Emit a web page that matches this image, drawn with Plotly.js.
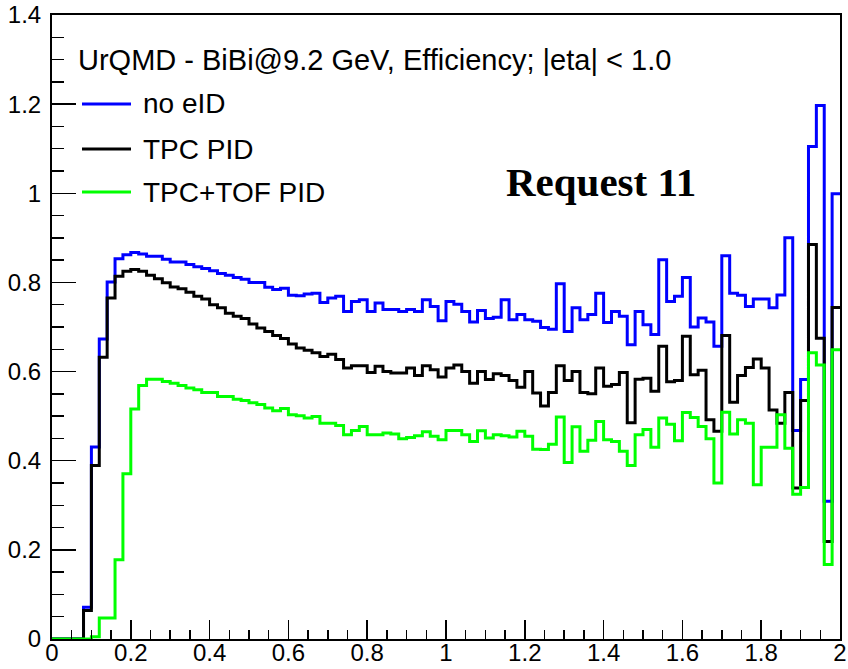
<!DOCTYPE html>
<html>
<head>
<meta charset="utf-8">
<script src="https://cdn.plot.ly/plotly-3.0.1.min.js"></script>
<style>
  html, body { margin: 0; padding: 0; background: #ffffff; }
  #chart { width: 848px; height: 669px; }
</style>
</head>
<body>
<div id="chart"></div>
<script>
// Histogram binning: 100 bins of width 0.02 on [0, 2]
const binLow = 0;
const binWidth = 0.02;

// Efficiency per bin
const noEID = [
  0, 0, 0, 0, 0.071, 0.431, 0.673, 0.801, 0.853, 0.862,
  0.867, 0.864, 0.859, 0.859, 0.852, 0.846, 0.846, 0.840, 0.835, 0.831,
  0.826, 0.820, 0.816, 0.811, 0.807, 0.800, 0.800, 0.789, 0.784, 0.787,
  0.771, 0.770, 0.774, 0.776, 0.755, 0.765, 0.769, 0.735, 0.757, 0.761,
  0.735, 0.754, 0.739, 0.739, 0.735, 0.739, 0.735, 0.761, 0.746, 0.714,
  0.757, 0.751, 0.735, 0.711, 0.737, 0.719, 0.722, 0.761, 0.716, 0.728,
  0.716, 0.713, 0.699, 0.695, 0.797, 0.690, 0.743, 0.716, 0.728, 0.776,
  0.710, 0.735, 0.724, 0.660, 0.735, 0.705, 0.683, 0.851, 0.757, 0.769,
  0.811, 0.700, 0.720, 0.711, 0.657, 0.860, 0.776, 0.771, 0.746, 0.763,
  0.763, 0.743, 0.772, 0.900, 0.468, 0.582, 1.105, 1.197, 0.309, 0.999
];
const tpcPID = [
  0, 0, 0, 0, 0.064, 0.389, 0.632, 0.765, 0.814, 0.825,
  0.829, 0.825, 0.816, 0.808, 0.799, 0.790, 0.786, 0.778, 0.769, 0.763,
  0.750, 0.743, 0.731, 0.724, 0.719, 0.707, 0.698, 0.690, 0.681, 0.674,
  0.662, 0.653, 0.648, 0.642, 0.634, 0.639, 0.627, 0.608, 0.613, 0.613,
  0.598, 0.612, 0.600, 0.597, 0.597, 0.608, 0.591, 0.613, 0.604, 0.588,
  0.608, 0.615, 0.600, 0.574, 0.600, 0.582, 0.595, 0.591, 0.580, 0.565,
  0.600, 0.552, 0.523, 0.553, 0.613, 0.580, 0.600, 0.553, 0.550, 0.608,
  0.567, 0.571, 0.598, 0.485, 0.583, 0.585, 0.556, 0.657, 0.577, 0.580,
  0.679, 0.593, 0.603, 0.492, 0.466, 0.681, 0.531, 0.591, 0.609, 0.628,
  0.608, 0.514, 0.484, 0.553, 0.339, 0.535, 0.885, 0.675, 0.219, 0.744
];
const tpcTofPID = [
  0, 0, 0, 0, 0, 0.005, 0.047, 0.047, 0.178, 0.371,
  0.516, 0.569, 0.583, 0.583, 0.578, 0.574, 0.569, 0.563, 0.559, 0.553,
  0.553, 0.544, 0.544, 0.538, 0.535, 0.530, 0.526, 0.518, 0.512, 0.517,
  0.503, 0.501, 0.496, 0.499, 0.484, 0.484, 0.479, 0.458, 0.468, 0.477,
  0.458, 0.458, 0.462, 0.460, 0.449, 0.452, 0.456, 0.465, 0.455, 0.447,
  0.468, 0.468, 0.458, 0.443, 0.467, 0.451, 0.458, 0.456, 0.453, 0.466,
  0.455, 0.426, 0.425, 0.437, 0.498, 0.396, 0.476, 0.421, 0.446, 0.488,
  0.447, 0.443, 0.421, 0.389, 0.458, 0.470, 0.430, 0.496, 0.482, 0.445,
  0.508, 0.497, 0.477, 0.449, 0.350, 0.509, 0.460, 0.492, 0.484, 0.346,
  0.430, 0.430, 0.503, 0.428, 0.325, 0.340, 0.642, 0.615, 0.167, 0.649
];

const seriesNames = ["no eID", "TPC PID", "TPC+TOF PID"];
const seriesColors = ["#0000ff", "#000000", "#00ff00"];
const headerText = "UrQMD - BiBi@9.2 GeV, Efficiency; |eta| < 1.0";
const stampText = "Request 11";

const xTickVals = [0, 0.2, 0.4, 0.6, 0.8, 1, 1.2, 1.4, 1.6, 1.8, 2];
const xTickText = ["0", "0.2", "0.4", "0.6", "0.8", "1", "1.2", "1.4", "1.6", "1.8", "2"];
const yTickVals = [0, 0.2, 0.4, 0.6, 0.8, 1, 1.2, 1.4];
const yTickText = ["0", "0.2", "0.4", "0.6", "0.8", "1", "1.2", "1.4"];

// Build step outlines (left edges + final right edge)
function stepTrace(values, name, color) {
  const xs = [];
  const ys = [];
  for (let i = 0; i < values.length; i++) {
    xs.push(+(binLow + i * binWidth).toFixed(4));
    ys.push(values[i]);
  }
  xs.push(+(binLow + values.length * binWidth).toFixed(4));
  ys.push(values[values.length - 1]);
  return {
    type: "scatter",
    mode: "lines",
    x: xs,
    y: ys,
    name: name,
    line: { shape: "hv", color: color, width: 3 },
    showlegend: false,
    hoverinfo: "x+y+name"
  };
}

const allSeries = [noEID, tpcPID, tpcTofPID];
const traces = allSeries.map((v, i) => stepTrace(v, seriesNames[i], seriesColors[i]));

// Plot-area geometry (px) used to place the in-frame legend
const plotL = 52, plotR = 840, plotT = 15, plotB = 639;
const pw = plotR - plotL, ph = plotB - plotT;
const px = (p) => (p - plotL) / pw;
const py = (p) => 1 - (p - plotT) / ph;

const legendRowsY = [104, 149, 192];
const shapes = [];
const annotations = [];

annotations.push({
  xref: "paper", yref: "paper",
  x: px(76), y: py(60),
  xanchor: "left", yanchor: "middle",
  text: headerText, showarrow: false,
  font: { family: "Liberation Sans, Arial, sans-serif", size: 29, color: "#000000" }
});

seriesNames.forEach((n, i) => {
  shapes.push({
    type: "line", xref: "paper", yref: "paper",
    x0: px(82), x1: px(131), y0: py(legendRowsY[i]), y1: py(legendRowsY[i]),
    line: { color: seriesColors[i], width: 3 }
  });
  annotations.push({
    xref: "paper", yref: "paper",
    x: px(141), y: py(legendRowsY[i]),
    xanchor: "left", yanchor: "middle",
    text: n, showarrow: false,
    font: { family: "Liberation Sans, Arial, sans-serif", size: 28, color: "#000000" }
  });
});

annotations.push({
  xref: "paper", yref: "paper",
  x: px(601), y: py(182),
  xanchor: "center", yanchor: "middle",
  text: "<b>" + stampText + "</b>", showarrow: false,
  font: { family: "Liberation Serif, Times New Roman, serif", size: 41, color: "#000000" }
});

const layout = {
  width: 848,
  height: 669,
  margin: { l: plotL, r: 848 - plotR, t: plotT, b: 669 - plotB, pad: 0 },
  paper_bgcolor: "#ffffff",
  plot_bgcolor: "#ffffff",
  showlegend: false,
  xaxis: {
    range: [0, 2],
    tickmode: "array",
    tickvals: xTickVals,
    ticktext: xTickText,
    ticks: "inside",
    ticklen: 19,
    tickwidth: 1.5,
    tickcolor: "#000000",
    minor: { dtick: 0.05, ticks: "inside", ticklen: 9, tickwidth: 1.5, tickcolor: "#000000", showgrid: false },
    showline: true,
    linecolor: "#000000",
    linewidth: 2,
    mirror: true,
    showgrid: false,
    zeroline: false,
    tickfont: { family: "Liberation Sans, Arial, sans-serif", size: 24, color: "#000000" },
    ticklabelstandoff: -9,
    ticklabeloverflow: "allow"
  },
  yaxis: {
    range: [0, 1.4],
    tickmode: "array",
    tickvals: yTickVals,
    ticktext: yTickText,
    ticks: "inside",
    ticklen: 24,
    tickwidth: 1.5,
    tickcolor: "#000000",
    minor: { dtick: 0.05, ticks: "inside", ticklen: 12, tickwidth: 1.5, tickcolor: "#000000", showgrid: false },
    showline: true,
    linecolor: "#000000",
    linewidth: 2,
    mirror: true,
    showgrid: false,
    zeroline: false,
    tickfont: { family: "Liberation Sans, Arial, sans-serif", size: 24, color: "#000000" },
    ticklabelstandoff: 4,
    ticklabeloverflow: "allow"
  },
  shapes: shapes,
  annotations: annotations
};

Plotly.newPlot("chart", traces, layout, { displayModeBar: false, staticPlot: true });
</script>
</body>
</html>
